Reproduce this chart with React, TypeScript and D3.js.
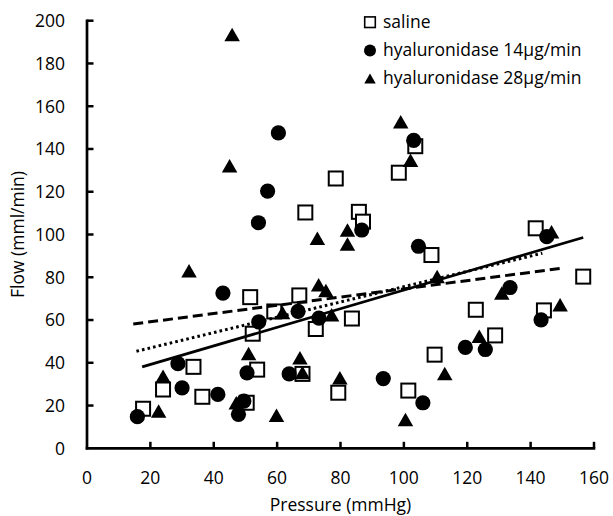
import React from 'react';
import * as d3 from 'd3';

// ---- Data ----
const salineX = [17.7, 24.0, 33.6, 36.4, 51.5, 52.3, 53.7, 50.4, 67.0, 59.1, 72.2, 83.6, 68.0, 79.3, 101.4, 68.9, 78.5, 98.4, 103.6, 85.8, 87.1, 108.7, 141.6, 156.6, 122.7, 144.2, 128.8, 109.7];
const salineY = [18.5, 27.5, 38.1, 24.1, 70.7, 53.6, 36.8, 21.3, 71.5, 64.0, 55.8, 60.7, 34.8, 26.0, 27.0, 110.3, 126.2, 128.9, 141.3, 110.6, 106.0, 90.4, 102.9, 80.3, 64.8, 64.5, 52.8, 43.8];

const hyal14X = [42.9, 54.2, 28.7, 50.5, 30.0, 41.3, 15.9, 47.8, 49.5, 66.6, 73.2, 63.8, 93.5, 106.0, 60.4, 57.0, 54.1, 103.1, 86.7, 104.6, 145.1, 133.5, 143.3, 119.4, 125.7];
const hyal14Y = [72.6, 59.1, 39.6, 35.3, 28.3, 25.2, 14.8, 15.9, 22.1, 64.0, 60.9, 34.8, 32.6, 21.3, 147.5, 120.3, 105.5, 144.0, 102.1, 94.5, 99.0, 75.2, 60.1, 47.2, 46.2];

const hyal28X = [51.0, 24.0, 22.6, 47.1, 73.1, 75.4, 61.7, 77.2, 67.2, 68.0, 79.8, 59.8, 100.5, 45.8, 45.0, 72.7, 32.2, 82.2, 82.2, 99.0, 102.1, 146.6, 110.5, 130.9, 149.3, 123.8, 112.9];
const hyal28Y = [44.3, 33.7, 17.4, 21.3, 76.5, 73.8, 63.5, 62.5, 42.3, 35.5, 33.0, 15.4, 13.5, 193.5, 132.1, 98.2, 83.1, 102.1, 95.6, 152.7, 134.7, 101.3, 80.3, 72.6, 67.1, 52.4, 35.0];

// trend lines: solid, dashed, dotted
const trendStyles = ['solid', 'dashed', 'dotted'];
const trendSlopes = [0.435, 0.193, 0.358];
const trendIntercepts = [30.5, 55.3, 39.8];
const trendStartX = [17.4, 14.6, 15.6];
const trendEndX = [156.6, 149.8, 143.7];

const xTicks = [0, 20, 40, 60, 80, 100, 120, 140, 160];
const yTicks = [0, 20, 40, 60, 80, 100, 120, 140, 160, 180, 200];

const legendLabels = ['saline', 'hyaluronidase 14\u00B5g/min', 'hyaluronidase 28\u00B5g/min'];
const legendShapes = ['square', 'circle', 'triangle'];

const FONT = "'Open Sans', sans-serif";

export default function App() {
  const W = 613, H = 516;
  const x = d3.scaleLinear().domain([0, 160]).range([87, 594]);
  const y = d3.scaleLinear().domain([0, 200]).range([448.3, 20.7]);

  const sq = 14;
  const r = 7.6;
  const triPath = (cx: number, cy: number, w: number, h: number) =>
    `M${cx - w / 2},${cy + h / 2}L${cx},${cy - h / 2}L${cx + w / 2},${cy + h / 2}Z`;

  const dashFor = (s: string) => (s === 'dashed' ? '10 5' : s === 'dotted' ? '2.6 3.1' : undefined);

  const line = d3.line<[number, number]>().x(d => x(d[0])).y(d => y(d[1]));

  const legendX = 370;
  const legendY0 = 22.2;
  const legendDy = 28.2;

  return (
    <svg width={W} height={H} style={{ position: 'absolute', left: 0, top: 0, background: '#fff' }} fontFamily={FONT}>
      <rect x={0} y={0} width={W} height={H} fill="#fff" />
      {/* saline squares */}
      {salineX.map((vx, i) => (
        <rect key={'s' + i} x={x(vx) - sq / 2} y={y(salineY[i]) - sq / 2} width={sq} height={sq}
          fill="#fff" stroke="#000" strokeWidth={2} />
      ))}
      {/* hyaluronidase 14 circles */}
      {hyal14X.map((vx, i) => (
        <circle key={'c' + i} cx={x(vx)} cy={y(hyal14Y[i])} r={r} fill="#000" />
      ))}
      {/* hyaluronidase 28 triangles */}
      {hyal28X.map((vx, i) => (
        <path key={'t' + i} d={triPath(x(vx), y(hyal28Y[i]), 15.5, 13.5)} fill="#000" />
      ))}
      {/* trend lines */}
      {trendStyles.map((s, i) => (
        <path key={'l' + i}
          d={line([[trendStartX[i], trendSlopes[i] * trendStartX[i] + trendIntercepts[i]], [trendEndX[i], trendSlopes[i] * trendEndX[i] + trendIntercepts[i]]]) || ''}
          fill="none" stroke="#000" strokeWidth={s === 'solid' ? 2.7 : 3} strokeDasharray={dashFor(s)} />
      ))}
      {/* axes */}
      <line x1={x(0)} x2={x(0)} y1={y(200) - 1.3} y2={y(0) + 1.3} stroke="#000" strokeWidth={2.7} />
      <line x1={x(0) - 1.3} x2={x(160) + 1.3} y1={y(0)} y2={y(0)} stroke="#000" strokeWidth={2.7} />
      {yTicks.filter(t => t > 0).map(t => (
        <line key={'yt' + t} x1={x(0)} x2={x(0) + 6.5} y1={y(t)} y2={y(t)} stroke="#000" strokeWidth={2.5} />
      ))}
      {xTicks.filter(t => t > 0).map(t => (
        <line key={'xt' + t} x1={x(t)} x2={x(t)} y1={y(0)} y2={y(0) - 6.5} stroke="#000" strokeWidth={2.5} />
      ))}
      {yTicks.map(t => (
        <text key={'yl' + t} x={65} y={y(t)} dy="0.36em" textAnchor="end" fontSize={17.5} fill="#000">{t}</text>
      ))}
      {xTicks.map(t => (
        <text key={'xl' + t} x={x(t)} y={484} textAnchor="middle" fontSize={17.5} fill="#000">{t}</text>
      ))}
      <text x={(x(0) + x(160)) / 2} y={511} textAnchor="middle" fontSize={17.5} fill="#000">Pressure (mmHg)</text>
      <text transform={`translate(24,${(y(0) + y(200)) / 2}) rotate(-90)`} textAnchor="middle" fontSize={17.5} fill="#000">Flow (mml/min)</text>
      {/* legend */}
      {legendLabels.map((lab, i) => {
        const cy = legendY0 + i * legendDy;
        const shape = legendShapes[i];
        return (
          <g key={'lg' + i}>
            {shape === 'square' && <rect x={legendX - 5.3} y={cy - 5.3} width={10.6} height={10.6} fill="#fff" stroke="#000" strokeWidth={1.6} />}
            {shape === 'circle' && <circle cx={legendX} cy={cy} r={6} fill="#000" />}
            {shape === 'triangle' && <path d={triPath(legendX, cy, 11.5, 10)} fill="#000" />}
            <text x={383} y={cy + 5.4} fontSize={17.5} fill="#000">{lab}</text>
          </g>
        );
      })}
    </svg>
  );
}
